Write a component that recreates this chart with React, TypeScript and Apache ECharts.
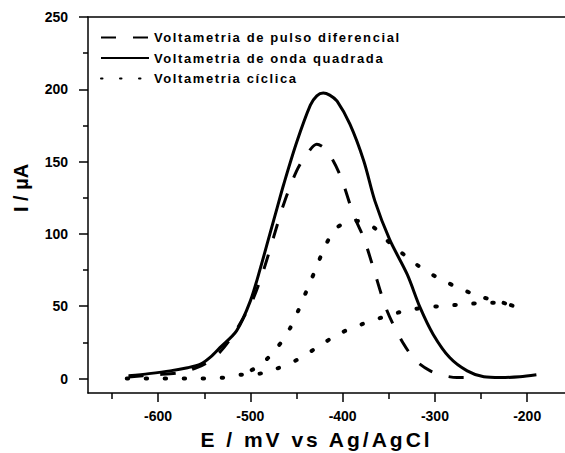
import React, { useEffect, useRef } from "react";
import * as echarts from "echarts";

const FONT = "'Liberation Sans', Arial, Helvetica, sans-serif";

const seriesNames = [
  "Voltametria de pulso diferencial",
  "Voltametria de onda quadrada",
  "Voltametria cíclica",
];

// E (mV) vs I (µA)
const dpvData: [number, number][] = [
  [-632, 1.0], [-605, 2.5], [-576, 4.1], [-560, 7], [-547, 11], [-532, 19],
  [-517, 31.8], [-498, 53.7], [-486, 74.4], [-475, 97.4], [-464, 120.4],
  [-450, 143.4], [-439, 155], [-428, 162], [-417, 157.5], [-403, 141],
  [-388, 113], [-377, 97], [-367, 77], [-352, 47], [-334, 24], [-320, 12],
  [-305, 5.3], [-290, 2], [-276, 0.7], [-256, 0.7],
];

const swvData: [number, number][] = [
  [-632, 1.9], [-610, 3.4], [-587, 5.3], [-568, 7.5], [-554, 10], [-543, 15],
  [-533, 21.4], [-515, 33], [-500, 53.7], [-489, 76.7], [-479, 99.7],
  [-471, 118], [-464, 134], [-450, 163], [-435, 189], [-428, 195.5],
  [-421, 197.5], [-414, 196], [-406, 191.8], [-392, 175.7], [-377, 150.3],
  [-365, 122.7], [-349, 96], [-330, 72], [-316, 49], [-302, 30.7],
  [-284, 14.5], [-265, 5.3], [-247, 1.2], [-229, 0.7], [-208, 1.2], [-190, 2.6],
];

const cvData: [number, number][] = [
  [-634, 0], [-614, 0], [-594, 0], [-573, 0], [-553, 0], [-531, 0.5],
  [-510, 2.6], [-489, 3.5], [-470, 7.2], [-448, 13.4], [-428, 21.4],
  [-404, 30.9], [-379, 37.6], [-358, 42.1], [-337, 46.1], [-316, 48.6],
  [-295, 50], [-274, 51.1], [-253, 52.1], [-232, 52.5], [-211, 49.5],
  [-232, 53.5], [-253, 57.1], [-273, 62.4], [-295, 69], [-316, 77.1],
  [-327, 82.4], [-348, 93.2], [-367, 104.8], [-386, 109], [-407, 104],
  [-420, 90], [-429, 76], [-438, 62.4], [-447, 48.6], [-457, 34.8],
  [-471, 21.4], [-489, 9.5], [-511, 1.9],
];

const xLabelTicks = [-600, -500, -400, -300, -200];
const xMinorTicks = [-650, -550, -450, -350, -250];
const yLabelTicks = [0, 50, 100, 150, 200, 250];
const yMinorTicks = [25, 75, 125, 175, 225];
const xTitle = "E / mV vs Ag/AgCl";
const yTitle = "I / µA";

const X_MIN = -676;
const X_MAX = -159;
const Y_MIN = -10;
const Y_MAX = 250;

const BLACK = "#000";
const axisLineStyle = { color: BLACK, width: 1.5 };

export default function App() {
  const ref = useRef<HTMLDivElement>(null);

  useEffect(() => {
    if (!ref.current) return;
    const chart = echarts.init(ref.current, undefined, { renderer: "svg" });
    const labelStyle = {
      color: BLACK,
      fontFamily: FONT,
      fontWeight: "bold" as const,
      fontSize: 14,
    };
    const option: any = {
      animation: false,
      backgroundColor: "#fff",
      grid: {
        left: 88,
        right: 0,
        top: 17,
        bottom: 60,
        containLabel: false,
        outerBoundsMode: "none",
      },
      legend: {
        show: true,
        orient: "vertical",
        left: 100,
        top: 31,
        padding: 0,
        itemWidth: 48,
        itemHeight: 14,
        itemGap: 7.5,
        selectedMode: false,
        data: seriesNames,
        itemStyle: { opacity: 0 },
        textStyle: {
          color: BLACK,
          fontFamily: FONT,
          fontWeight: "bold",
          fontSize: 13,
        },
      },
      xAxis: [
        {
          type: "value",
          position: "bottom",
          min: X_MIN,
          max: X_MAX,
          name: xTitle,
          nameLocation: "middle",
          nameGap: 35,
          nameTextStyle: {
            color: BLACK,
            fontFamily: FONT,
            fontWeight: "bold",
            fontSize: 21,
            lineHeight: 22,
            padding: [0, 20, 0, 0],
          },
          axisLine: { show: true, onZero: false, lineStyle: axisLineStyle },
          axisTick: { show: true, customValues: xLabelTicks, length: 9, lineStyle: axisLineStyle },
          axisLabel: { show: true, customValues: xLabelTicks, margin: 16, ...labelStyle },
          splitLine: { show: false },
        },
        {
          type: "value",
          position: "bottom",
          min: X_MIN,
          max: X_MAX,
          axisLine: { show: false, onZero: false },
          axisTick: { show: true, customValues: xMinorTicks, length: 6, lineStyle: axisLineStyle },
          axisLabel: { show: false },
          splitLine: { show: false },
        },
        {
          type: "value",
          position: "top",
          min: X_MIN,
          max: X_MAX,
          axisLine: { show: true, onZero: false, lineStyle: axisLineStyle },
          axisTick: { show: false },
          axisLabel: { show: false },
          splitLine: { show: false },
        },
      ],
      yAxis: [
        {
          type: "value",
          position: "left",
          min: Y_MIN,
          max: Y_MAX,
          name: yTitle,
          nameLocation: "middle",
          nameGap: 57,
          nameTextStyle: {
            color: BLACK,
            fontFamily: FONT,
            fontWeight: "bold",
            fontSize: 20,
            padding: [0, 0, 0, 34],
          },
          axisLine: { show: true, onZero: false, lineStyle: axisLineStyle },
          axisTick: { show: true, customValues: yLabelTicks, length: 9, lineStyle: axisLineStyle },
          axisLabel: { show: true, customValues: yLabelTicks, margin: 20, ...labelStyle },
          splitLine: { show: false },
        },
        {
          type: "value",
          position: "left",
          min: Y_MIN,
          max: Y_MAX,
          axisLine: { show: false, onZero: false },
          axisTick: { show: true, customValues: yMinorTicks, length: 5, lineStyle: axisLineStyle },
          axisLabel: { show: false },
          splitLine: { show: false },
        },
      ],
      series: [
        {
          name: seriesNames[0],
          type: "line",
          data: dpvData,
          symbol: "none",
          smooth: 0.3,
          silent: true,
          color: BLACK,
          lineStyle: { color: BLACK, width: 3, type: [15, 17], cap: "butt" },
          z: 3,
        },
        {
          name: seriesNames[1],
          type: "line",
          data: swvData,
          symbol: "none",
          smooth: 0.3,
          silent: true,
          color: BLACK,
          lineStyle: { color: BLACK, width: 3, type: "solid" },
          z: 2,
        },
        {
          name: seriesNames[2],
          type: "line",
          data: cvData,
          symbol: "none",
          smooth: 0.3,
          silent: true,
          color: BLACK,
          lineStyle: { color: BLACK, width: 4, type: [1.5, 17.5], cap: "round" },
          z: 1,
        },
      ],
    };
    chart.setOption(option);
    return () => chart.dispose();
  }, []);

  return (
    <>
      <style>{`
        .cvchart text[style*="13px"] { letter-spacing: 1.6px; }
        .cvchart text[style*="21px"] { letter-spacing: 3px; }
      `}</style>
      <div
        ref={ref}
        className="cvchart"
        style={{ position: "absolute", left: 0, top: 0, width: 565, height: 453, background: "#fff" }}
      />
    </>
  );
}
